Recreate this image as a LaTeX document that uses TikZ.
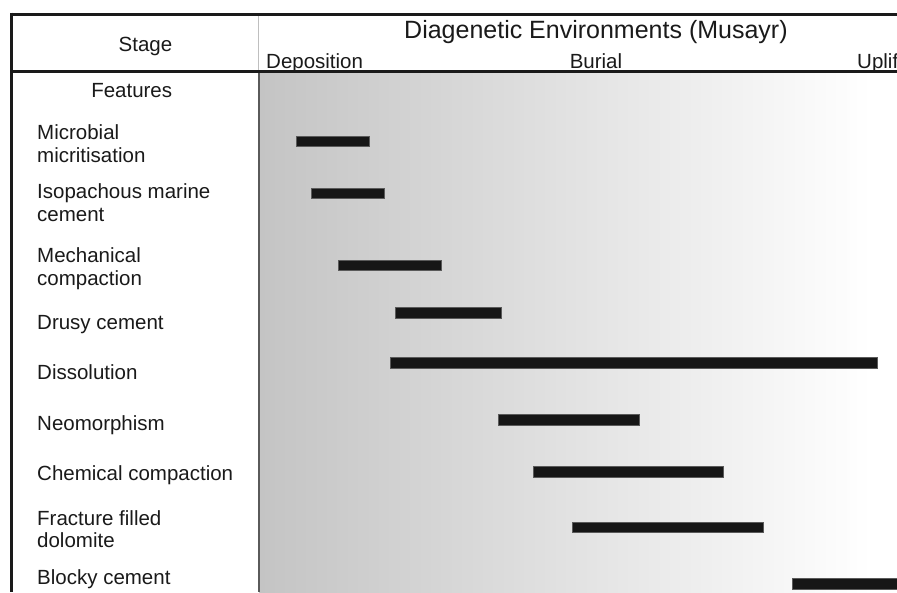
\documentclass[tikz,border=0pt]{standalone}
\usepackage{fontspec}
\setmainfont{Liberation Sans}
\usepackage{xcolor}
\definecolor{frame}{HTML}{1A1A1A}
\definecolor{divider}{HTML}{5A5A5A}
\definecolor{shadeleft}{HTML}{C4C4C4}
\definecolor{barfill}{HTML}{161616}
\usepackage{tikz}
\usetikzlibrary{positioning}
\tikzset{%
    rule/.style={%
        draw=frame, line width=3.2pt
    },
    bar/.style={%
        fill=barfill, draw=divider, line width=0.6pt
    },
    feature/.style={%
        anchor=base west, align=left, font=\fontsize{20.5}{23}\selectfont
    },
}

\begin{document}
\begin{tikzpicture}[
        x=1pt, y=-1pt,
        every node/.style={inner sep=0, text=frame},
        head/.style={anchor=base, font=\fontsize{20.5}{23}\selectfont},
        stagelbl/.style={anchor=base west, font=\fontsize{20.5}{23}\selectfont},
    ]
        \useasboundingbox (0,0) rectangle (897,592);
        \clip (0,0) rectangle (897,592);
        \fill[white] (0,0) rectangle (897,592);

        % environments get lighter from deposition to uplift
        \shade[left color=shadeleft, right color=white] (259,72) rectangle (872,592);

        \draw[rule] (10,14.3) -- (897,14.3);
        \draw[rule] (10,71.5) -- (897,71.5);
        \draw[frame, line width=3pt] (11.5,12.7) -- (11.5,592);
        \draw[gray!50, line width=0.8pt] (258.5,16) -- (258.5,70);
        \draw[divider, line width=2pt] (258.5,73) -- (258.5,592);

        \node[head] (stage) at (145.5,51.7) {Stage};
        \node[head] (features) at (131.7,97) {Features};
        \node[anchor=base west, font=\fontsize{25}{28}\selectfont] (environments) at (404,38) {Diagenetic Environments (Musayr)};
        \node[stagelbl] (deposition) at (266,68) {Deposition};
        \node[head] (burial) at (596,68) {Burial};
        \node[stagelbl] (uplift) at (857,68) {Uplift};

        % two-line labels sit on their second line
        \node[feature] (micrit) at (37,162) {Microbial\\micritisation};
        \node[feature] (isopach) at (37,221) {Isopachous marine\\cement};
        \node[feature] (mechcomp) at (37,285) {Mechanical\\compaction};
        \node[feature] (drusy) at (37,329) {Drusy cement};
        \node[feature] (dissol) at (37,379) {Dissolution};
        \node[feature] (neomorph) at (37,430) {Neomorphism};
        \node[feature] (chemcomp) at (37,480) {Chemical compaction};
        \node[feature, font=\fontsize{20.5}{22}\selectfont] (fracture) at (37,547) {Fracture filled\\dolomite};
        \node[feature] (blocky) at (37,584) {Blocky cement};

        \draw[bar] (296,136) rectangle (369,146.5);
        \draw[bar] (311,188) rectangle (384,198.5);
        \draw[bar] (338,260) rectangle (441,270.5);
        \draw[bar] (395,307) rectangle (501,318);
        \draw[bar] (390,357) rectangle (877,368);
        \draw[bar] (498,414.5) rectangle (639,425.5);
        \draw[bar] (533,466) rectangle (723,477);
        \draw[bar] (572,522) rectangle (763,532.5);
        \draw[bar] (792,578) rectangle (900,589);
\end{tikzpicture}
\end{document}
